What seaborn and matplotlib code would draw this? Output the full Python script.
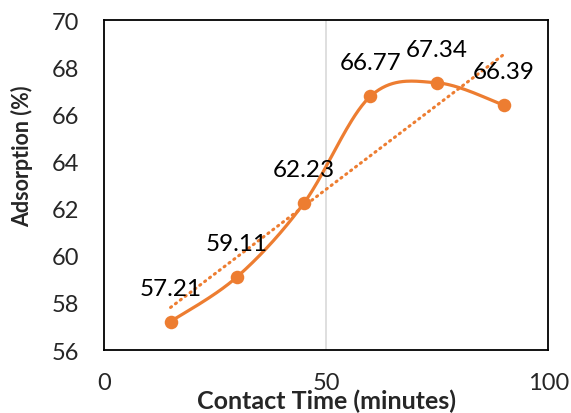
import numpy as np
import pandas as pd
import matplotlib
matplotlib.use("Agg")
import matplotlib.pyplot as plt
import seaborn as sns

# data
contact_time = [15, 30, 45, 60, 75, 90]
adsorption = [57.21, 59.11, 62.23, 66.77, 67.34, 66.39]
x_ticks = [0, 50, 100]
y_ticks = [56, 58, 60, 62, 64, 66, 68, 70]

orange = "#ED7D31"


def smooth_curve(xs, ys, n=40):
    # Excel-style smoothed line (Catmull-Rom through the points)
    pts = np.column_stack([xs, ys]).astype(float)
    pts = np.vstack([pts[0], pts, pts[-1]])
    out = []
    for i in range(1, len(pts) - 2):
        p0, p1, p2, p3 = pts[i - 1], pts[i], pts[i + 1], pts[i + 2]
        c1 = p1 + (p2 - p0) / 6
        c2 = p2 - (p3 - p1) / 6
        t = np.linspace(0, 1, n)[:, None]
        seg = ((1 - t) ** 3) * p1 + 3 * ((1 - t) ** 2) * t * c1 + 3 * (1 - t) * t ** 2 * c2 + t ** 3 * p2
        out.append(seg if i == 1 else seg[1:])
    out = np.vstack(out)
    return out[:, 0], out[:, 1]


sns.set_style("white")
plt.rcParams['font.family'] = ['Lato', 'DejaVu Sans']

fig = plt.figure(figsize=(5.71, 4.14), dpi=100)
ax = fig.add_axes([0.182, 0.152, 0.778, 0.797])

df = pd.DataFrame({"time": contact_time, "ads": adsorption})

sx, sy = smooth_curve(df["time"], df["ads"])
sns.lineplot(x=sx, y=sy, ax=ax, color=orange, linewidth=2.3, sort=False, zorder=3)

slope, intercept = np.polyfit(df["time"], df["ads"], 1)
tx = np.array([df["time"].min(), df["time"].max()])
sns.lineplot(x=tx, y=slope * tx + intercept, ax=ax, color=orange, linewidth=2.2,
             linestyle=(0, (0.4, 1.6)), dash_capstyle="round", zorder=2)

sns.scatterplot(data=df, x="time", y="ads", ax=ax, color=orange, s=95,
                edgecolor=orange, linewidth=0, zorder=4)

for t, a in zip(contact_time, adsorption):
    ax.annotate(f"{a:.2f}", (t, a), xytext=(0, 24), textcoords="offset points",
                ha="center", va="center", fontsize=17.5, color="black", zorder=5)

ax.axvline(50, color="#D9D9D9", linewidth=1.2, zorder=1)

ax.set_xlim(0, 100)
ax.set_ylim(56, 70)
ax.set_xticks(x_ticks)
ax.set_yticks(y_ticks)
ax.tick_params(axis="both", length=0, labelsize=17)
ax.tick_params(axis="y", pad=18)
ax.tick_params(axis="x", pad=16)
ax.set_xlabel("Contact Time (minutes)", fontsize=18, fontweight="bold")
ax.xaxis.set_label_coords(0.5, -0.118)
ax.set_ylabel("Adsorption (%)", fontsize=15.5, fontweight="bold")
ax.yaxis.set_label_coords(-0.16, 0.59)

for side in ["left", "right", "top", "bottom"]:
    ax.spines[side].set_visible(True)
    ax.spines[side].set_color("black")
    ax.spines[side].set_linewidth(1.3)

fig.savefig("out.png", dpi=100)
